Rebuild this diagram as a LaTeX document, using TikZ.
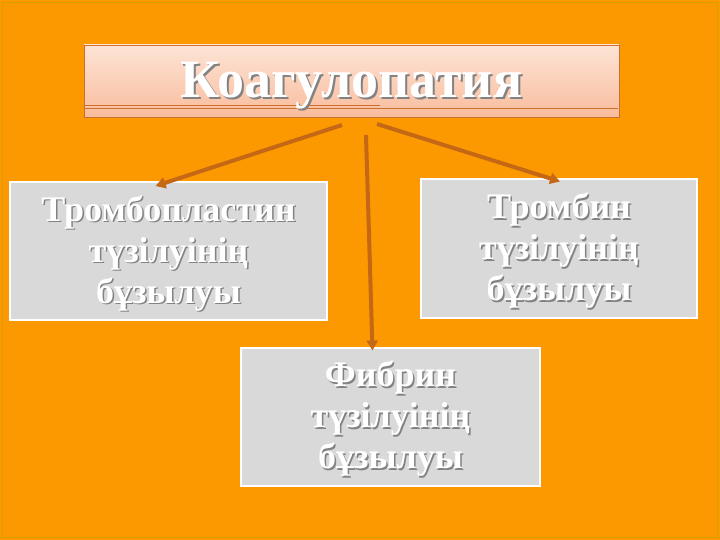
\documentclass[tikz,border=0pt]{standalone}
\usepackage{fontspec}
\setmainfont{Liberation Serif}
\usetikzlibrary{arrows.meta}
\usepackage{xcolor}
\definecolor{bgorange}{RGB}{253,153,0}
\definecolor{frameline}{RGB}{212,160,0}
\definecolor{arrbrown}{RGB}{196,104,22}
\definecolor{titletop}{RGB}{253,228,214}
\definecolor{titlebot}{RGB}{249,188,156}
\definecolor{titleline}{RGB}{204,112,48}
\definecolor{boxgrey}{RGB}{217,217,217}
\definecolor{shadowgrey}{RGB}{130,130,130}

\tikzset{
  greybox/.style={draw=white,line width=2pt,fill=boxgrey,minimum height=138pt,inner sep=0pt},
  boxtext/.style={text=white,font=\bfseries\fontsize{36}{41}\selectfont,align=center},
  boxshadow/.style={boxtext,text=shadowgrey},
  titletext/.style={text=white,font=\bfseries\fontsize{54}{56}\selectfont},
  arr/.style={-{Triangle[length=10pt,width=11pt]},draw=arrbrown,line width=4pt}
}

\begin{document}
\begin{tikzpicture}[x=1pt,y=-1pt]

  \useasboundingbox (0,0) rectangle (720,540);
  \fill[bgorange] (0,0) rectangle (720,540);
  \draw[frameline,line width=1pt] (2.5,2.5) rectangle (717.5,537.5);

  % title
  \node[draw=titleline,line width=0.8pt,top color=titletop,bottom color=titlebot,
        minimum width=535pt,minimum height=72pt] (Ti) at (351.5,81) {};
  \draw[titleline,line width=0.5pt] (85,105) -- (380,105);
  \draw[titleline,line width=0.5pt] (85,108) -- (618,108);
  \node[titletext,text=shadowgrey] (TiSh) at ([shift={(2,7)}]Ti.center) {Коагулопатия};
  \node[titletext] (TiTx) at ([yshift=-5pt]Ti.center) {Коагулопатия};

  % boxes
  \node[greybox,minimum width=317pt] (TrPl) at (168.5,251) {};
  \node[boxshadow] (TrPlSh) at ([shift={(1.5,3.5)}]TrPl.center) {Тромбопластин\\түзілуінің\\бұзылуы};
  \node[boxtext] (TrPlTx) at ([yshift=-2pt]TrPl.center) {Тромбопластин\\түзілуінің\\бұзылуы};

  \node[greybox,minimum width=276pt] (Tr) at (559,248.5) {};
  \node[boxshadow] (TrSh) at ([shift={(1.5,3.5)}]Tr.center) {Тромбин\\түзілуінің\\бұзылуы};
  \node[boxtext] (TrTx) at ([yshift=-2pt]Tr.center) {Тромбин\\түзілуінің\\бұзылуы};

  \node[greybox,minimum width=299pt] (Fi) at (390.5,416.5) {};
  \node[boxshadow] (FiSh) at ([shift={(1.5,3.5)}]Fi.center) {Фибрин\\түзілуінің\\бұзылуы};
  \node[boxtext] (FiTx) at ([yshift=-2pt]Fi.center) {Фибрин\\түзілуінің\\бұзылуы};

  % arrows
  \coordinate (StL) at (342,125);
  \coordinate (StM) at (366,135);
  \coordinate (StR) at (377,124);
  \draw[arr] (StL) to ([xshift=-13pt,yshift=-5pt]TrPl.north);
  \draw[arr] (StM) to ([xshift=-18pt,yshift=-4pt]Fi.north);
  \draw[arr] (StR) to ([xshift=1pt,yshift=-3pt]Tr.north);

\end{tikzpicture}
\end{document}
